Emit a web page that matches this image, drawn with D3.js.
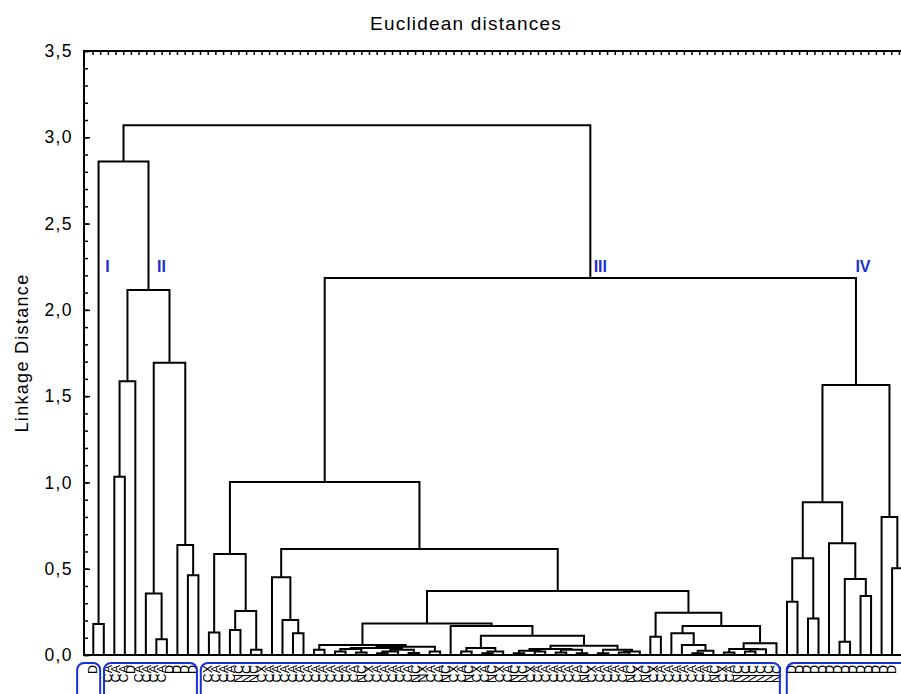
<!DOCTYPE html>
<html>
<head>
<meta charset="utf-8">
<script src="https://cdn.jsdelivr.net/npm/d3@7"></script>
<style>
  body { margin: 0; background: #fff; }
  svg text { font-family: "Liberation Sans", Arial, sans-serif; }
</style>
</head>
<body>
<svg id="chart" width="901" height="694"></svg>
<script>
// Leaves are numbered left to right (0..77). A cluster is [linkage distance, left, right].
const groupI = [0.18, 0, 1];
const groupII = [2.115,
    [1.587, [1.033, 2, 3], 4],
    [1.694, [0.357, 5, [0.091, 6, 7]], [0.637, 8, [0.462, 9, 10]]]];

const groupIIIa = [0.585, [0.13, 11, 12], [0.255, [0.145, 13, 14], [0.03, 15, 16]]];
const groupIIIb = [0.45, 17, [0.203, 18, [0.126, 19, 20]]];
const groupIIIc = [0.183,
    [0.058, [0.03, 21, 22],
        [0.048,
            [0.04, [0.035, [0.02, 23, 24], [0.015, 25, 26]],
                   [0.03, [0.02, [0.01, 27, 28], 29], [0.012, 30, 31]]],
            [0.02, 32, 33]]],
    [0.168, 34,
        [0.112,
            [0.04, [0.02, 35, 36], [0.02, [0.01, 37, 38], 39]],
            [0.054,
                [0.035, [0.025, [0.01, 40, 41], [0.02, 42, 43]], [0.03, [0.015, 44, 45], [0.01, 46, 47]]],
                [0.03, [0.01, 48, 49], [0.02, [0.015, 50, 51], 52]]]]]];
const groupIIId = [0.245,
    [0.106, 53, 54],
    [0.168,
        [0.126, 55, [0.058, 56, [0.025, [0.01, 57, 58], 59]]],
        [0.068, [0.035, [0.015, 60, 61], [0.033, [0.02, 62, 63], 64]], 65]]];
const groupIII = [1.002, groupIIIa, [0.614, groupIIIb, [0.371, groupIIIc, groupIIId]]];

const groupIV = [1.565,
    [0.885, [0.56, [0.309, 66, 67], [0.212, 68, 69]],
            [0.647, 70, [0.44, [0.077, 71, 72], [0.342, 73, 74]]]],
    [0.80, 75, [0.502, 76, 77]]];

const tree = [3.07, [2.86, groupI, groupII], [2.184, groupIII, groupIV]];
const leafCount = 78;

// case labels printed under the tree (read bottom to top)
const labelsI = ["D"];
const labelsII = ["CA", "CA", "CA", "D", "CA", "CA", "CA", "CA", "D", "D", "D", "D"];
const labelsIII = [
    "CX", "CA", "CA", "CA", "NC", "NC",
    "NC", "CX", "CA", "CA", "CA", "CA", "CA", "CA", "CA", "CA", "CA", "CA", "CA", "CA",
    "NC", "CX", "CA", "CA", "CA", "CA", "CA", "NC", "NX", "CA", "CA", "NC",
    "CX", "CA", "NC", "CX", "CA", "NC", "CX", "CA", "NC", "NC", "CX", "CA", "CA", "CA",
    "CA", "CA", "CA", "NC", "CX", "CA", "CA", "CA", "CA", "NC", "CX",
    "NC", "CX", "CA", "CA", "CA", "CA", "CA", "CA", "CA", "NC", "CX", "CA",
    "NC", "NC", "NC", "NC", "NC", "NC"];
const labelsIV = ["D", "D", "D", "D", "D", "D", "D", "D", "D", "D", "D", "D", "D", "D"];
const groupNames = ["I", "II", "III", "IV"];
// blue frames round the label groups, in label slots
const groupFrames = [[-2, 1], [1.5, 13.6], [14.1, 89.5], [90.4, 110]];

const yTicks = [0, 0.5, 1.0, 1.5, 2.0, 2.5, 3.0, 3.5];

const svg = d3.select("#chart");
const margin = {top: 51, left: 84, bottom: 655, right: 914};

const y = d3.scaleLinear().domain([0, 3.5]).range([margin.bottom, margin.top]);
const x = d3.scaleLinear().domain([0, leafCount - 1]).range([93.3, 902.6]);
// label slots: one empty slot between groups
const slot = d3.scaleLinear().domain([0, 1]).range([92.5, 100.18]);

// frame
svg.append("rect")
    .attr("x", margin.left).attr("y", margin.top)
    .attr("width", margin.right - margin.left).attr("height", margin.bottom - margin.top)
    .attr("fill", "none").attr("stroke", "#000").attr("stroke-width", 2);

// left axis with minor ticks pointing inward
const yAxis = d3.axisLeft(y).tickValues(yTicks).tickSize(-6).tickPadding(11)
    .tickFormat(d => d3.format(".1f")(d).replace(".", ","));
svg.append("g")
    .attr("transform", `translate(${margin.left},0)`)
    .call(yAxis)
    .call(g => g.select(".domain").remove())
    .call(g => g.selectAll("line").attr("stroke-width", 1.5))
    .call(g => g.selectAll("text").style("font-size", "17.5px").style("letter-spacing", "1.4px").attr("fill", "#000"));
svg.append("g")
    .attr("transform", `translate(${margin.left},0)`)
    .call(d3.axisLeft(y).ticks(35).tickSize(-4).tickFormat(""))
    .call(g => g.select(".domain").remove())
    .call(g => g.selectAll("line").attr("stroke-width", 1.5));

// top axis ticks
svg.append("g")
    .attr("transform", `translate(0,${margin.top})`)
    .call(d3.axisTop(slot).tickValues(d3.range(0, 108)).tickSize(-4).tickFormat(""))
    .call(g => g.select(".domain").remove())
    .call(g => g.selectAll("line").attr("stroke-width", 1.5));

// dendrogram
const root = d3.hierarchy(tree, d => Array.isArray(d) ? d.slice(1) : null);
root.eachAfter(n => {
    if (!n.children) { n.px = x(n.data); n.h = 0; }
    else { n.h = n.data[0]; n.px = (n.children[0].px + n.children[1].px) / 2; }
});
svg.append("g")
    .selectAll("path")
    .data(root.descendants().filter(n => n.children))
    .join("path")
    .attr("d", n => {
        const [a, b] = n.children;
        return `M${a.px},${y(a.h)}V${y(n.h)}H${b.px}V${y(b.h)}`;
    })
    .attr("fill", "none").attr("stroke", "#000").attr("stroke-width", 2);

// title and y label
svg.append("text").attr("x", 466).attr("y", 30).attr("text-anchor", "middle")
    .style("font-size", "19px").style("letter-spacing", "1.2px").text("Euclidean distances");
svg.append("text").attr("transform", "translate(28,353) rotate(-90)").attr("text-anchor", "middle")
    .style("font-size", "18px").style("letter-spacing", "1.3px").text("Linkage Distance");

// case labels
const labelGroups = [labelsI, labelsII, labelsIII, labelsIV];
const placed = [];
let s = 0;
labelGroups.forEach(g => { g.forEach(t => placed.push({t, s: s++})); s++; });
svg.append("g")
    .selectAll("text")
    .data(placed)
    .join("text")
    .attr("transform", d => `translate(${slot(d.s)},665) rotate(-90)`)
    .attr("text-anchor", "end").attr("dy", "0.36em")
    .style("font-size", "12.5px")
    .text(d => d.t);

// blue frames round label groups
svg.append("g")
    .selectAll("rect")
    .data(groupFrames)
    .join("rect")
    .attr("x", d => slot(d[0])).attr("y", 663)
    .attr("width", d => slot(d[1]) - slot(d[0])).attr("height", 50)
    .attr("rx", 7)
    .attr("fill", "none").attr("stroke", "#1a2fd6").attr("stroke-width", 2);

// group numerals
const clusterNodes = [
    root.children[0].children[0], root.children[0].children[1],
    root.children[1], root.children[1].children[1]
];
svg.append("g")
    .selectAll("text")
    .data(clusterNodes)
    .join("text")
    .attr("x", (n, i) => n.px + [9, 13, 10, 7][i])
    .attr("y", y(2.22))
    .attr("text-anchor", "middle")
    .style("font-size", "16px").style("font-weight", "bold").attr("fill", "#1a2fd6")
    .text((n, i) => groupNames[i]);
</script>
</body>
</html>
